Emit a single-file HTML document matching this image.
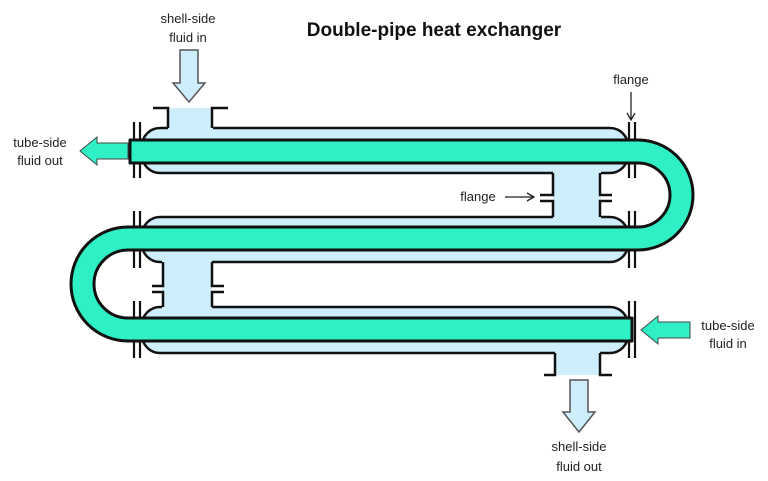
<!DOCTYPE html>
<html><head><meta charset="utf-8"><style>
html,body{margin:0;padding:0;background:#fff;}
svg{display:block;}
text{font-family:"Liberation Sans",sans-serif;}
</style></head><body>
<svg width="768" height="481" viewBox="0 0 768 481" xmlns="http://www.w3.org/2000/svg">
<rect width="768" height="481" fill="#fff"/>
<text x="434" y="36" font-size="19" font-weight="bold" text-anchor="middle" fill="#111">Double-pipe heat exchanger</text>
<g font-size="13" fill="#222" text-anchor="middle">
<text x="188" y="23">shell-side</text><text x="188" y="42">fluid in</text>
<text x="631" y="84">flange</text>
<text x="40" y="147">tube-side</text><text x="40" y="165">fluid out</text>
<text x="478" y="201">flange</text>
<text x="728" y="330">tube-side</text><text x="728" y="348">fluid in</text>
<text x="579" y="451">shell-side</text><text x="579" y="471">fluid out</text>
</g>
<g stroke="#222" stroke-width="1.3" fill="none">
<line x1="631" y1="92" x2="631" y2="119"/><path d="M627 113 L631 120 L635 113"/>
<line x1="505" y1="197" x2="533" y2="197"/><path d="M527 193 L534 197 L527 201"/>
</g>
<!-- inlet arrow -->
<path d="M180 50 H198 V83 H205 L189 102 L173 83 H180 Z" fill="#cdeefa" stroke="#555" stroke-width="1.5"/>
<!-- outlet arrow -->
<path d="M570 380 H588 V412 H595 L579 432 L563 412 H570 Z" fill="#cdeefa" stroke="#555" stroke-width="1.5"/>
<!-- shells -->
<g fill="#cdeefa" stroke="#111" stroke-width="2.5">
<rect x="142" y="128" width="486" height="45" rx="18"/>
<rect x="142" y="217" width="486" height="45" rx="18"/>
<rect x="142" y="307" width="486" height="46" rx="18"/>
</g>
<!-- connectors -->
<g fill="#cdeefa">
<rect x="168" y="108" width="45" height="22"/>
<rect x="553" y="171" width="48" height="48"/>
<rect x="162" y="260" width="50" height="49"/>
<rect x="555" y="351" width="45" height="24"/>
</g>
<g stroke="#111" stroke-width="2.5" fill="none">
<path d="M153 108 H168 V128 M228 108 H212 V128"/>
<path d="M553 173 V195 H540 M540 201 H553 V217 M600 173 V195 H612 M612 201 H600 V217"/>
<path d="M163 262 V286 H152 M152 292 H163 V307 M212 262 V286 H224 M224 292 H212 V307"/>
<path d="M544 375 H555 V353 M612 375 H600 V353"/>
</g>
<!-- flanges -->
<g stroke="#111" stroke-width="2.2">
<line x1="134" y1="122" x2="134" y2="178"/><line x1="140" y1="122" x2="140" y2="178"/>
<line x1="629" y1="122" x2="629" y2="178"/><line x1="635" y1="122" x2="635" y2="178"/>
<line x1="629" y1="211" x2="629" y2="268"/><line x1="635" y1="211" x2="635" y2="268"/>
<line x1="134" y1="211" x2="134" y2="268"/><line x1="140" y1="211" x2="140" y2="268"/>
<line x1="134" y1="301" x2="134" y2="358"/><line x1="140" y1="301" x2="140" y2="358"/>
<line x1="629" y1="301" x2="629" y2="358"/><line x1="635" y1="301" x2="635" y2="358"/>
</g>
<!-- tube serpentine -->
<path d="M130 140 H638 A55 55 0 0 1 638 250 H128 A34 34 0 0 0 128 318 H632 V341 H128 A57 57 0 0 1 128 227 H638 A32 32 0 0 0 638 163 H130 Z" fill="#2ef0c4" stroke="#111" stroke-width="3" stroke-linejoin="round"/>
<!-- tube arrows -->
<path d="M128 143 H97 V137 L80 151 L97 165 V159 H128 Z" fill="#2ef0c4" stroke="#444" stroke-width="1"/>
<path d="M690 322 H658 V316 L641 330 L658 344 V338 H690 Z" fill="#2ef0c4" stroke="#444" stroke-width="1"/>
</svg>
</body></html>
